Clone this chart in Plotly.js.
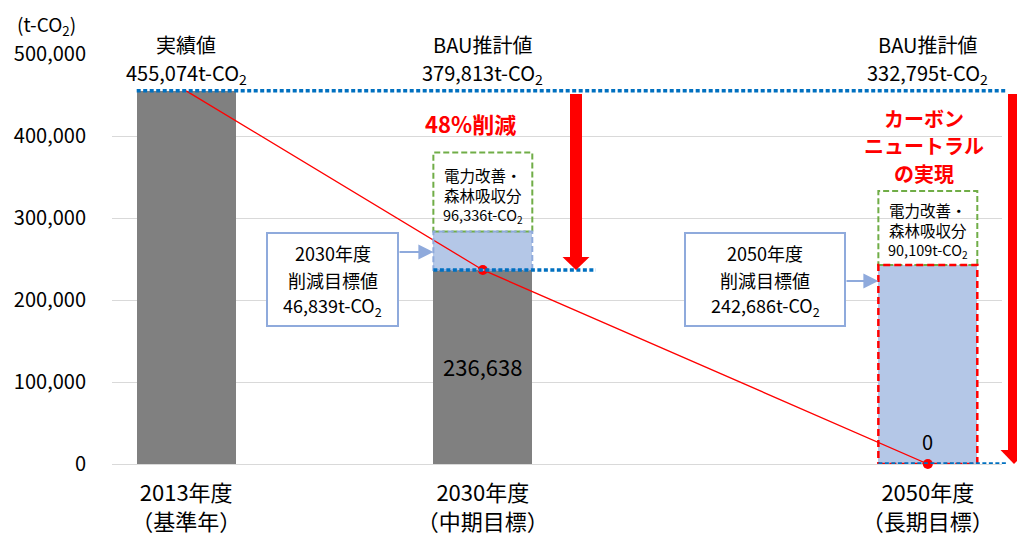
<!DOCTYPE html>
<html>
<head>
<meta charset="utf-8">
<script src="https://cdn.plot.ly/plotly-3.0.1.min.js"></script>
<style>html,body{margin:0;padding:0;background:#fff;}#chart{width:1017px;height:536px;}</style>
</head>
<body>
<div id="chart"></div>
<script>
// ---- data ----
const categories = ['2013年度<br>（基準年）', '2030年度<br>（中期目標）', '2050年度<br>（長期目標）'];
const topTitles = ['実績値', 'BAU推計値', 'BAU推計値'];
const actualEmissions = [455074, 236638, null];   // grey bars
const reductionTarget = [null, 46839, 242686];    // light blue (削減目標値)
const absorption = [null, 96336, 90109];          // 電力改善・森林吸収分
const bauValues = [455074, 379813, 332795];       // 実績値 / BAU推計値
const trendValues = [455074, 236638, 0];          // red trend line
const reductionLabel = '48%削減';
const neutralLabel = ['カーボン', 'ニュートラル', 'の実現'];

// ---- layout helpers ----
const SLOT = [0, 2, 5];           // slot of each category among 6 slots
const BW = 0.667;                 // bar width in slot units
const XR = [-0.5, 5.5], YR = [0, 500000];
const L = 112, R = 1002, T = 54, B = 464;
const px = x => (x - L) / (R - L);
const py = y => (B - y) / (B - T);
const d2p = v => (v - XR[0]) / (XR[1] - XR[0]);
const fmt = v => v.toLocaleString('en-US');
const CO2 = 't-CO<sub>2</sub>';
const FONT = 'Noto Sans CJK JP, Noto Sans, sans-serif';

const traces = [
  {type: 'bar', x: SLOT.slice(0, 2), y: actualEmissions.slice(0, 2), width: BW,
   marker: {color: '#808080'}, hoverinfo: 'skip'},
  {type: 'bar', x: SLOT.slice(1), y: reductionTarget.slice(1), width: BW,
   marker: {color: '#b4c7e7'}, hoverinfo: 'skip'},
  {type: 'scatter', mode: 'lines', x: SLOT, y: trendValues,
   line: {color: '#ff0000', width: 1.3}, hoverinfo: 'skip'},
  {type: 'scatter', mode: 'markers', x: SLOT.slice(1), y: trendValues.slice(1),
   marker: {color: '#ff0000', size: 10}, cliponaxis: false, hoverinfo: 'skip'}
];

const shapes = [];
const ann = [];
function txt(text, x, y, size, opts) {
  ann.push(Object.assign({text: text, x: x, y: y, xref: 'paper', yref: 'paper',
    showarrow: false, xanchor: 'center', yanchor: 'middle',
    font: {family: FONT, size: size, color: '#000'}}, opts || {}));
}

// text boxes (削減目標値)
const boxes = [
  {x0: 267, x1: 398, lines: ['2030年度', '削減目標値', fmt(reductionTarget[1]) + CO2], tgt: 1},
  {x0: 685, x1: 845, lines: ['2050年度', '削減目標値', fmt(reductionTarget[2]) + CO2], tgt: 2}
];
boxes.forEach((b, k) => {
  shapes.push({type: 'rect', xref: 'paper', yref: 'paper', x0: px(b.x0), x1: px(b.x1),
    y0: py(326), y1: py(233), fillcolor: '#ffffff', line: {color: '#8faadc', width: 2}});
  const cx = px((b.x0 + b.x1) / 2);
  [253, 279.5, 306].forEach((yy, i) => txt(b.lines[i], cx, py(yy), 18));
  const ay = k === 0 ? 252 : 281;
  ann.push({text: '', xref: 'paper', yref: 'paper', x: d2p(SLOT[b.tgt] - BW / 2), y: py(ay),
    ax: -(d2p(SLOT[b.tgt] - BW / 2) * (R - L) + L - b.x1), ay: 0, axref: 'pixel', ayref: 'pixel',
    showarrow: true, arrowhead: 2, arrowsize: 1.5, arrowwidth: 2, arrowcolor: '#8faadc', standoff: 0});
});

// green dashed boxes (absorption) + borders of blue parts
[1, 2].forEach(i => {
  const base = (actualEmissions[i] || 0) + reductionTarget[i];
  shapes.push({type: 'rect', xref: 'x', yref: 'y', x0: SLOT[i] - BW / 2, x1: SLOT[i] + BW / 2,
    y0: base, y1: base + absorption[i], line: {color: '#70ad47', width: 2, dash: '6px,3px'}});
});
shapes.push({type: 'rect', xref: 'x', yref: 'y', x0: SLOT[1] - BW / 2, x1: SLOT[1] + BW / 2,
  y0: actualEmissions[1], y1: actualEmissions[1] + reductionTarget[1],
  line: {color: '#8faadc', width: 2, dash: '6px,3px'}});
shapes.push({type: 'rect', xref: 'x', yref: 'y', x0: SLOT[2] - BW / 2, x1: SLOT[2] + BW / 2,
  y0: 0, y1: reductionTarget[2], line: {color: '#ff0000', width: 2.5, dash: '7px,4px'}});

// blue dotted reference lines
function dotted(x0, x1, y) {
  shapes.push({type: 'line', xref: 'paper', yref: 'y', x0: x0, x1: x1, y0: y, y1: y,
    line: {color: '#0070c0', width: 3.5, dash: '4px,2.5px'}});
}
dotted(d2p(SLOT[0] - BW / 2), px(1007), bauValues[0]);
dotted(d2p(SLOT[1] - BW / 2), px(596), trendValues[1]);
dotted(d2p(SLOT[2] - BW / 2), px(1007), trendValues[2]);

// red thick arrows
function redArrow(cx, yTop, tip, headPx) {
  const headStart = tip + headPx / (B - T) * (YR[1] - YR[0]);
  shapes.push({type: 'rect', xref: 'paper', yref: 'y', x0: px(cx - 6), x1: px(cx + 6),
    y0: headStart, y1: yTop, fillcolor: '#ff0000', line: {width: 0}});
  shapes.push({type: 'path', xref: 'paper', yref: 'y',
    path: `M${px(cx - 13.5)},${headStart} L${px(cx + 13.5)},${headStart} L${px(cx)},${tip} Z`,
    fillcolor: '#ff0000', line: {width: 0}});
}
redArrow(576, bauValues[0] - 4000, trendValues[1], 13);
redArrow(1014, bauValues[0] - 4000, trendValues[2], 14);

// labels above bars
SLOT.forEach((s, i) => {
  txt(topTitles[i], d2p(s), py(45), 20);
  txt(fmt(bauValues[i]) + CO2, d2p(s), py(73), 20);
});
txt('(t-CO<sub>2</sub>)', px(46), py(25), 19);

// green box texts
[[1, 195], [2, 230]].forEach(([i, cy]) => {
  txt('電力改善・', d2p(SLOT[i]), py(cy - 20), 15.5);
  txt('森林吸収分', d2p(SLOT[i]), py(cy), 15.5);
  txt(fmt(absorption[i]) + CO2, d2p(SLOT[i]), py(cy + 20), 14.5);
});

// red messages
txt(reductionLabel, px(470), py(123), 22, {font: {family: FONT, size: 22, color: '#ff0000', weight: 'bold'}});
neutralLabel.forEach((t, i) => txt(t, px(924), py(118 + i * 27.5), 20,
  {font: {family: FONT, size: 20, color: '#ff0000', weight: 'bold'}}));

// value labels in bars
txt(fmt(actualEmissions[1]), d2p(SLOT[1]), py(366), 22);
txt(fmt(trendValues[2]), d2p(SLOT[2]), py(441), 20);

const layout = {
  width: 1017, height: 536,
  margin: {l: L, r: 1017 - R, t: T, b: 536 - B},
  paper_bgcolor: '#fff', plot_bgcolor: '#fff',
  barmode: 'stack', showlegend: false,
  font: {family: FONT, color: '#000'},
  xaxis: {range: XR, tickvals: SLOT, ticktext: categories, showgrid: false, zeroline: false,
    showline: false, ticks: '', tickfont: {family: FONT, size: 22, color: '#000'},
    ticklabelstandoff: 14, fixedrange: true},
  yaxis: {range: YR, dtick: 100000, tickformat: ',', showgrid: true, gridcolor: '#d9d9d9',
    gridwidth: 1, zeroline: true, zerolinecolor: '#d9d9d9', zerolinewidth: 1, showline: false,
    ticks: '', tickfont: {family: FONT, size: 20, color: '#000'}, ticklabelstandoff: 25,
    fixedrange: true},
  shapes: shapes,
  annotations: ann
};

Plotly.newPlot('chart', traces, layout, {staticPlot: true, displayModeBar: false});
</script>
</body>
</html>
